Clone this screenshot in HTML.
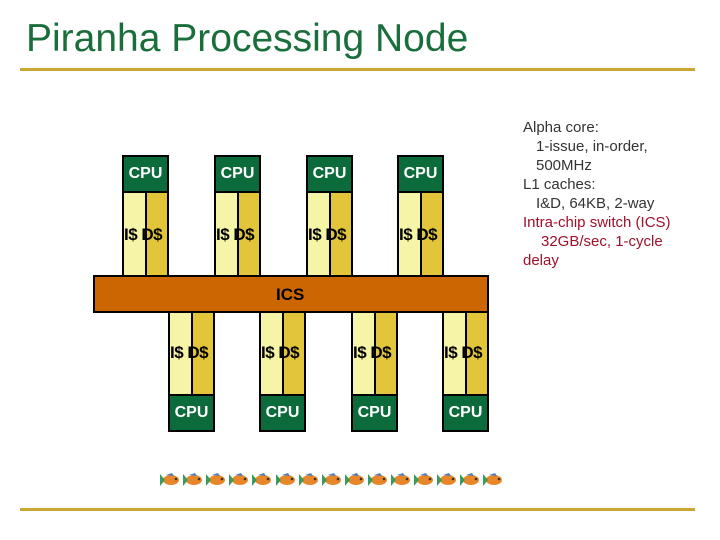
<!DOCTYPE html>
<html><head><style>
body{margin:0;width:720px;height:540px;background:#fff;position:relative;overflow:hidden;font-family:"Liberation Sans",sans-serif}
.a{position:absolute;box-sizing:border-box}
.cpu{background:#0b6b3a;color:#fff;font-weight:bold;font-size:16px;display:flex;align-items:center;justify-content:center;border:2px solid #000}
.i{background:#f6f4a6;border:2px solid #000}
.d{background:#e2c53a;border:2px solid #000}
.lbl{position:absolute;font-weight:bold;font-size:17px;color:#000;letter-spacing:-0.5px}
.t{position:absolute;left:0;white-space:nowrap;font-size:15px;line-height:19px;color:#333}
</style></head><body>
<div class="a" style="left:26px;top:17px;font-size:39px;color:#1a6e3c">Piranha Processing Node</div>
<div class="a" style="left:20px;top:68px;width:675px;height:3px;background:#c8a830"></div>
<div class="a" style="left:20px;top:508px;width:675px;height:3px;background:#c8a830"></div>

<div id="top"></div>
<script>
var h='';
[122,214,306,397].forEach(function(x){
h+='<div class="a cpu" style="left:'+x+'px;top:155px;width:47px;height:38px">CPU</div>';
h+='<div class="a i" style="left:'+x+'px;top:191px;width:25px;height:88px"></div>';
h+='<div class="a d" style="left:'+(x+23)+'px;top:191px;width:24px;height:88px"></div>';
h+='<div class="lbl" style="left:'+(x+2)+'px;top:225px">I$ D$</div>';
});
[168,259,351,442].forEach(function(x){
h+='<div class="a i" style="left:'+x+'px;top:309px;width:25px;height:87px"></div>';
h+='<div class="a d" style="left:'+(x+23)+'px;top:309px;width:24px;height:87px"></div>';
h+='<div class="lbl" style="left:'+(x+2)+'px;top:343px">I$ D$</div>';
h+='<div class="a cpu" style="left:'+x+'px;top:394px;width:47px;height:38px">CPU</div>';
});
h+='<div class="a" style="left:93px;top:275px;width:396px;height:38px;background:#cc6600;border:2px solid #000"></div>';
h+='<div class="lbl" style="left:276px;top:285px;letter-spacing:0">ICS</div>';
for(var k=0;k<15;k++){var x=158+k*23.1;
h+='<svg class="a" style="left:'+x+'px;top:471px" width="23" height="17"><ellipse cx="13" cy="9" rx="8" ry="5" fill="#e8872a"/><path d="M2 3 L7 9 L2 15Z" fill="#3c9a5a"/><path d="M8 4 L14 2 L16 5Z" fill="#4a7fc0"/><circle cx="18" cy="8" r="1.3" fill="#333"/></svg>';}
document.getElementById('top').outerHTML=h;
</script>

<div class="a" style="left:523px;top:118px;width:197px;height:160px">
<div class="t" style="top:0">Alpha core:</div>
<div class="t" style="top:19px;left:13px">1-issue, in-order,</div>
<div class="t" style="top:38px;left:13px">500MHz</div>
<div class="t" style="top:57px">L1 caches:</div>
<div class="t" style="top:76px;left:13px">I&amp;D, 64KB, 2-way</div>
<div class="t" style="top:95px;color:#a0102a">Intra-chip switch (ICS)</div>
<div class="t" style="top:114px;left:18px;color:#a0102a">32GB/sec, 1-cycle</div>
<div class="t" style="top:133px;color:#a0102a">delay</div>
</div>
</body></html>
